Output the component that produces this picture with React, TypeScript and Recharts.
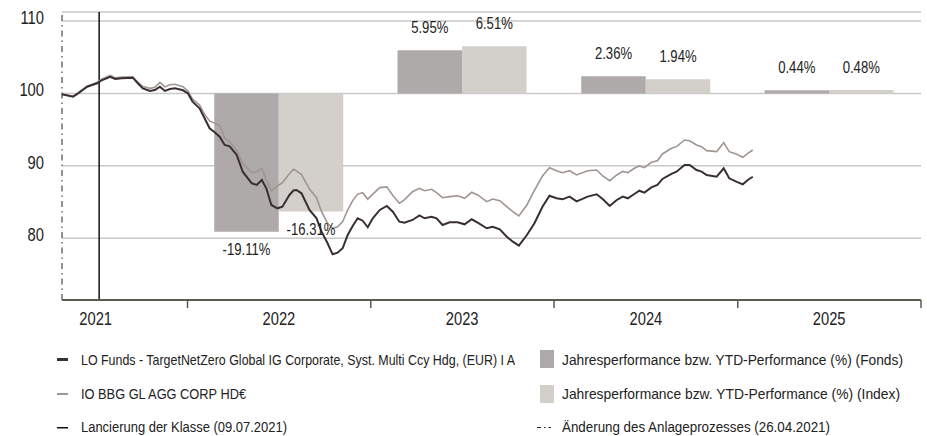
import React from 'react';
import { ComposedChart, Line, Bar, XAxis, YAxis, CartesianGrid, ReferenceLine, LabelList } from 'recharts';

// Arial-metric font squeezed horizontally to stand in for a narrow grotesque
const FONT = '"Liberation Sans", Arial, sans-serif';
const NARROW = 0.82;

// weekly-ish readings of the indexed performance (start = 100)
const dates = [
  '2021-04-26', '2021-05-18', '2021-05-28', '2021-06-15', '2021-06-25', '2021-07-05', '2021-07-15', '2021-07-31', '2021-08-10', '2021-08-23',
  '2021-09-14', '2021-09-24', '2021-10-04', '2021-10-18', '2021-10-28', '2021-11-07', '2021-11-17', '2021-11-27', '2021-12-07', '2021-12-23',
  '2022-01-02', '2022-01-11', '2022-01-25', '2022-02-04', '2022-02-14', '2022-02-24', '2022-03-06', '2022-03-16', '2022-03-26', '2022-04-09',
  '2022-04-21', '2022-05-09', '2022-05-19', '2022-05-29', '2022-06-07', '2022-06-17', '2022-06-29', '2022-07-09', '2022-07-23', '2022-07-31',
  '2022-08-06', '2022-08-16', '2022-09-01', '2022-09-15', '2022-09-25', '2022-10-07', '2022-10-17', '2022-10-27', '2022-11-06', '2022-11-16',
  '2022-11-26', '2022-12-06', '2022-12-16', '2022-12-26',
  '2023-01-05', '2023-01-19', '2023-02-02', '2023-02-14', '2023-02-27', '2023-03-09', '2023-03-25', '2023-04-08', '2023-04-18', '2023-05-02',
  '2023-05-12', '2023-05-24', '2023-06-07', '2023-06-23', '2023-07-07', '2023-07-21', '2023-08-02', '2023-08-20', '2023-09-01', '2023-09-15',
  '2023-09-29', '2023-10-11', '2023-10-23', '2023-11-08', '2023-11-23', '2023-12-09', '2023-12-23',
  '2024-01-06', '2024-01-18', '2024-02-01', '2024-02-15', '2024-03-08', '2024-03-26', '2024-04-07', '2024-04-21', '2024-05-05', '2024-05-17',
  '2024-05-27', '2024-06-09', '2024-06-19', '2024-06-29', '2024-07-13', '2024-07-25', '2024-08-04', '2024-08-22', '2024-09-01', '2024-09-17',
  '2024-09-27', '2024-10-11', '2024-10-21', '2024-10-31', '2024-11-20', '2024-12-04', '2024-12-15', '2024-12-29',
  '2025-01-11', '2025-01-21', '2025-01-31',
];

const fundValues = [
  99.88, 99.55, 100.0, 100.93, 101.16, 101.4, 101.85, 102.3, 101.99, 102.1,
  102.17, 101.4, 100.7, 100.34, 100.47, 100.93, 100.34, 100.6, 100.7, 100.43,
  100.0, 98.86, 97.95, 96.57, 95.19, 94.63, 94.03, 92.88, 92.7, 91.5,
  89.19, 87.59, 87.36, 88.05, 86.9, 84.6, 84.14, 84.36, 85.98, 86.6,
  86.67, 86.21, 83.91, 82.76, 80.91, 79.31, 77.79, 78.01, 78.62, 80.45,
  81.7, 82.76, 82.43, 81.52,
  82.76, 83.91, 84.46, 83.67, 82.29, 82.15, 82.53, 83.17, 82.76, 82.98,
  82.76, 81.84, 82.21, 82.21, 81.93, 82.62, 82.15, 81.38, 81.6, 81.24,
  80.22, 79.53, 78.98, 80.45, 82.07, 84.36, 85.88,
  85.52, 85.38, 85.75, 85.1, 85.75, 86.07, 85.42, 84.46, 85.29, 85.75,
  85.52, 86.11, 86.57, 86.3, 87.03, 87.36, 88.19, 88.88, 89.2, 90.12,
  90.12, 89.43, 89.2, 88.74, 88.5, 89.66, 88.28, 87.82,
  87.45, 88.05, 88.5,
];

const indexValues = [
  99.88, 99.6, 100.05, 100.98, 101.25, 101.55, 102.0, 102.5, 102.15, 102.25,
  102.3, 101.55, 100.95, 100.7, 100.85, 101.53, 100.9, 101.2, 101.26, 100.93,
  100.3, 99.2, 98.4, 97.1, 96.2, 95.9, 95.6, 93.8, 93.34, 92.1,
  90.3, 89.06, 89.2, 89.66, 88.05, 86.57, 87.22, 87.68, 88.9, 89.52,
  89.3, 88.8, 86.8, 85.6, 83.67, 82.07, 81.38, 81.6, 82.3, 83.9,
  85.2, 86.1, 86.3, 85.4,
  86.1, 87.0, 87.1, 85.9, 84.83, 85.3, 86.43, 86.9, 86.57, 86.76,
  86.3, 85.6, 85.75, 85.88, 85.52, 86.35, 85.98, 85.06, 85.42, 85.19,
  84.36, 83.67, 83.08, 84.6, 86.6, 88.6, 89.75,
  89.33, 89.06, 89.33, 88.74, 89.33, 89.43, 88.6, 87.95, 88.74, 89.24,
  89.06, 89.66, 89.98, 89.75, 90.49, 90.71, 91.64, 92.42, 92.65, 93.57,
  93.47, 92.88, 92.65, 92.1, 91.96, 93.2, 91.96, 91.64,
  91.18, 91.73, 92.19,
];

// yearly / YTD performance in %
const barYears = ['2022', '2023', '2024', '2025'];
const barDates = ['2022-07-02', '2023-07-02', '2024-07-02', '2025-07-02'];
const fondsPerf = [-19.11, 5.95, 2.36, 0.44];
const indexPerf = [-16.31, 6.51, 1.94, 0.48];

const yearBounds = ['2022-01-01', '2023-01-01', '2024-01-01', '2025-01-01', '2026-01-01'];
const yearLabels = ['2021', '2022', '2023', '2024', '2025'];
const yearLabelDates = ['2021-07-02', '2022-07-02', '2023-07-02', '2024-07-02', '2025-07-02'];
const yTicks = [80, 90, 100, 110];

const START = '2021-04-26'; // Änderung des Anlageprozesses
const LAUNCH = '2021-07-09'; // Lancierung der Klasse
const END = '2026-01-01';

const ts = (d: string) => Date.parse(d + 'T00:00:00Z');

const lineData = dates.map((d, i) => ({ t: ts(d), fund: fundValues[i], index: indexValues[i] }));
const barData = barDates.map((d, i) => ({ t: ts(d), year: barYears[i], fonds: fondsPerf[i], idx: indexPerf[i] }));

const xDomain = [ts(START), ts(END)];
const boundTs = yearBounds.map(ts);
const labelTs = yearLabelDates.map(ts);

const FUND_COLOR = '#3a2f30';
const INDEX_COLOR = '#a09590';
const FONDS_BAR = '#aeaaa9';
const INDEX_BAR = '#d3cfcb';
const AXIS_COLOR = '#5a5c4e';
const TEXT_COLOR = '#222';

const NarrowText = ({ x, y, size, anchor, children }: any) => (
  <text
    transform={`translate(${x} ${y}) scale(${NARROW} 1)`}
    textAnchor={anchor}
    fontSize={size}
    fill={TEXT_COLOR}
    fontFamily={FONT}
  >
    {children}
  </text>
);

const XTick = (props: any) => {
  const { x, y, payload } = props;
  if (boundTs.includes(payload.value)) {
    return <line x1={x} x2={x} y1={y} y2={y + 8} stroke={AXIS_COLOR} strokeWidth={1.5} />;
  }
  const i = labelTs.indexOf(payload.value);
  return (
    <NarrowText x={x} y={y + 25} size={18} anchor="middle">
      {yearLabels[i]}
    </NarrowText>
  );
};

const YTick = (props: any) => {
  const { x, y, payload } = props;
  return (
    <NarrowText x={x} y={y + 3} size={18} anchor="end">
      {payload.value}
    </NarrowText>
  );
};

const perfLabel = (perf: number[]) => (props: any) => {
  const { x, y, width, height, index } = props;
  const v = perf[index];
  const top = Math.min(y, y + height);
  const bottom = Math.max(y, y + height);
  const ty = v >= 0 ? top - 17 : bottom + 23;
  return (
    <NarrowText x={x + width / 2} y={ty} size={16} anchor="middle">
      {v.toFixed(2)}%
    </NarrowText>
  );
};

const rangeFrom100 = (key: 'fonds' | 'idx') => (d: any) => {
  const v = 100 + d[key];
  return [Math.min(100, v), Math.max(100, v)];
};

// legend text squeezed to the width it takes in the original
const LegendText = ({ x, y, w, s, children }: any) => (
  <text
    transform={`translate(${x} ${y}) scale(${s} 1)`}
    fontSize={15}
    fill={TEXT_COLOR}
    fontFamily={FONT}
    textLength={w / s}
    lengthAdjust="spacingAndGlyphs"
  >
    {children}
  </text>
);

const Legend = () => (
  <svg style={{ position: 'absolute', left: 0, top: 0 }} width={927} height={436}>
    <rect x={57} y={358} width={11} height={3} fill={FUND_COLOR} />
    <LegendText x={81} y={365} w={434} s={0.824}>
      LO Funds - TargetNetZero Global IG Corporate, Syst. Multi Ccy Hdg, (EUR) I A
    </LegendText>
    <rect x={57} y={393} width={11} height={2} fill={INDEX_COLOR} />
    <LegendText x={81} y={399} w={165} s={0.846}>IO BBG GL AGG CORP HD€</LegendText>
    <rect x={57} y={427} width={11} height={1.5} fill="#111" />
    <LegendText x={81} y={432} w={206} s={0.865}>Lancierung der Klasse (09.07.2021)</LegendText>

    <rect x={540} y={350} width={14} height={18} fill={FONDS_BAR} />
    <LegendText x={562} y={365} w={341} s={0.897}>Jahresperformance bzw. YTD-Performance (%) (Fonds)</LegendText>
    <rect x={540} y={385} width={14} height={18} fill={INDEX_BAR} />
    <LegendText x={562} y={399} w={338} s={0.9}>Jahresperformance bzw. YTD-Performance (%) (Index)</LegendText>
    <line x1={537} x2={551} y1={427.5} y2={427.5} stroke="#222" strokeWidth={1} strokeDasharray="4 3 1.5 3" />
    <LegendText x={562} y={432} w={268} s={0.867}>Änderung des Anlageprozesses (26.04.2021)</LegendText>
  </svg>
);

const App = () => {
  return (
    <div style={{ position: 'absolute', left: 0, top: 0, width: 927, height: 436, background: '#fff', fontFamily: FONT }}>
      <ComposedChart width={927} height={340} data={barData} margin={{ top: 12, right: 6, bottom: 10, left: 0 }} barGap={0}>
        <CartesianGrid vertical={false} stroke="#c8c8c8" strokeWidth={1.5} />
        <XAxis
          xAxisId="time"
          type="number"
          dataKey="t"
          domain={xDomain}
          ticks={[...labelTs, ...boundTs]}
          interval={0}
          tick={<XTick />}
          tickLine={false}
          tickSize={0}
          tickMargin={0}
          height={30}
          axisLine={{ stroke: AXIS_COLOR, strokeWidth: 2 }}
        />
        <XAxis xAxisId="bars" type="number" dataKey="t" domain={xDomain} height={0} hide />
        <YAxis
          type="number"
          domain={[71.48, 111.24]}
          ticks={yTicks}
          width={62}
          axisLine={false}
          tickLine={false}
          tickSize={0}
          tickMargin={18}
          tick={<YTick />}
        />
        <Bar xAxisId="bars" dataKey={rangeFrom100('fonds')} fill={FONDS_BAR} barSize={64.5} isAnimationActive={false}>
          <LabelList content={perfLabel(fondsPerf)} />
        </Bar>
        <Bar xAxisId="bars" dataKey={rangeFrom100('idx')} fill={INDEX_BAR} barSize={64.5} isAnimationActive={false}>
          <LabelList content={perfLabel(indexPerf)} />
        </Bar>
        <ReferenceLine xAxisId="time" x={ts(START)} stroke="#222" strokeWidth={1} strokeDasharray="6 4 1.5 4" />
        <ReferenceLine xAxisId="time" x={ts(LAUNCH)} stroke="#111" strokeWidth={1.5} />
        <Line
          xAxisId="time"
          data={lineData}
          dataKey="index"
          stroke={INDEX_COLOR}
          strokeWidth={1.6}
          dot={false}
          isAnimationActive={false}
        />
        <Line
          xAxisId="time"
          data={lineData}
          dataKey="fund"
          stroke={FUND_COLOR}
          strokeWidth={2}
          dot={false}
          isAnimationActive={false}
        />
      </ComposedChart>
      <Legend />
    </div>
  );
};

export default App;
